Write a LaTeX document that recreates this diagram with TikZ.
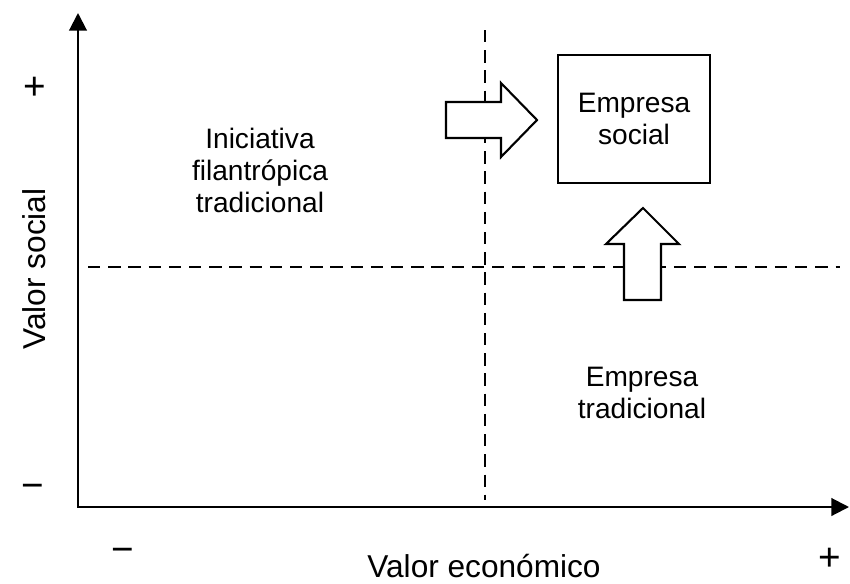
\documentclass[tikz,border=0pt]{standalone}
\usepackage{fontspec}
\setmainfont{Liberation Sans}
\usetikzlibrary{arrows.meta}

\begin{document}
\begin{tikzpicture}[x=0.02cm,y=-0.02cm,
    axisline/.style={line width=1.2pt,{Triangle[length=10pt,width=10pt]}-{Triangle[length=10pt,width=10pt]}},
    guide/.style={line width=1.1pt,dash pattern=on 7pt off 4.5pt},
    quadtext/.style={font=\fontsize{16}{18.2}\selectfont,align=center},
    axistext/.style={font=\fontsize{18}{20}\selectfont},
    signtext/.style={font=\fontsize{22}{24}\selectfont},
    blockarrow/.style={line width=1.2pt,fill=white,line join=miter}]
    \useasboundingbox (0,0) rectangle (850,583);

    \coordinate (ytop) at (78,13);
    \coordinate (origin) at (78,507);
    \coordinate (xend) at (849,507);
    \coordinate (vtop) at (485,30);
    \coordinate (vbottom) at (485,500);
    \coordinate (hleft) at (88,267);
    \coordinate (hright) at (840,267);

    % quadrant guides
    \draw[guide] (vtop) -- (vbottom);
    \draw[guide] (hleft) -- (hright);

    % axes
    \draw[axisline] (ytop) -- (origin) -- (xend);

    % block arrows
    \draw[blockarrow] (446,102) -- (501,102) -- (501,83) -- (537,120)
        -- (501,157) -- (501,138) -- (446,138) -- cycle;
    \draw[blockarrow] (624,300) -- (624,244) -- (606,244) -- (643,208)
        -- (679,244) -- (661,244) -- (661,300) -- cycle;

    \node[quadtext,draw,line width=1.2pt,minimum width=3.04cm,minimum height=2.56cm] (social) at (634,119) {Empresa\\social};
    \node[quadtext] (filantropica) at (260,170) {Iniciativa\\filantrópica\\tradicional};
    \node[quadtext] (tradicional) at (642,393) {Empresa\\tradicional};

    \node[axistext] (xlabel) at (484,566) {Valor económico};
    \node[axistext,rotate=90] (ylabel) at (34,269) {Valor social};
    \node[signtext] (yplus) at (35,88) {+};
    \node[signtext] (yminus) at (33,491) {−};
    \node[signtext] (xminus) at (123,555) {−};
    \node[signtext] (xplus) at (830,559) {+};
\end{tikzpicture}
\end{document}
